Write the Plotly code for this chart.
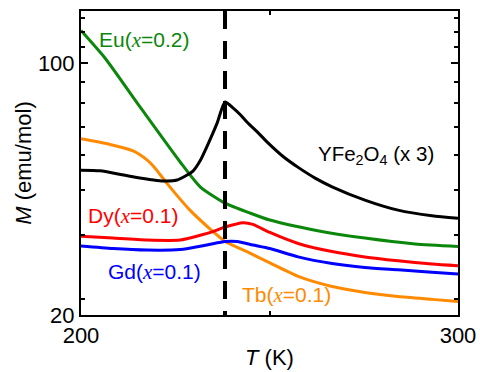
import math
import plotly.graph_objects as go

# ---- data (T in K, M in emu/mol) ----
T_eu = [200.0, 206.4, 215.6, 226.3, 231.6, 238.2, 244.8, 250.1, 262.1, 275.3, 288.6, 300.0]
M_eu = [123.3, 103.3, 75.8, 53.2, 45.4, 40.9, 38.4, 36.7, 34.4, 32.7, 31.5, 31.0]

T_y = [200.0, 205.0, 213.8, 221.8, 225.5, 229.7, 231.6, 233.4, 236.1, 238.2, 240.3, 242.2, 244.0,
       247.0, 249.6, 253.6, 257.6, 262.1, 266.6, 275.3, 284.1, 293.1, 300.0]
M_y = [50.5, 50.3, 48.4, 47.1, 47.4, 50.2, 53.6, 58.7, 68.2, 78.1, 75.2, 72.1, 68.7,
       64.1, 60.1, 55.1, 51.4, 48.0, 45.4, 41.7, 39.1, 37.7, 37.1]

T_tb = [200.0, 207.7, 213.8, 217.5, 219.6, 222.8, 228.9, 235.0, 238.2, 244.0, 250.1, 257.6, 266.6,
        275.3, 284.1, 293.1, 300.0]
M_tb = [61.7, 59.5, 57.1, 53.9, 51.2, 46.4, 39.1, 34.1, 32.0, 30.0, 27.9, 25.6, 24.0,
        23.1, 22.5, 22.1, 21.8]

T_dy = [200.0, 208.5, 217.5, 226.3, 231.6, 235.0, 238.2, 243.0, 245.6, 250.1, 257.6, 266.6,
        275.3, 284.1, 293.1, 300.0]
M_dy = [33.1, 32.7, 32.3, 32.3, 33.3, 34.1, 35.1, 36.1, 35.7, 33.9, 31.6, 30.0,
        29.0, 28.3, 27.7, 27.4]

T_gd = [200.0, 208.5, 217.5, 226.3, 233.4, 238.2, 241.4, 245.6, 250.1, 257.6, 266.6,
        275.3, 284.1, 293.1, 300.0]
M_gd = [31.1, 30.6, 30.3, 30.4, 31.3, 32.0, 32.0, 31.3, 30.6, 29.0, 27.8,
        27.1, 26.7, 26.3, 26.0]

T_transition = 238.2

y_major_ticks = [20, 100]
y_minor_ticks = [100 * n / 9 for n in (2, 3, 4, 5, 6, 7, 8, 10, 11, 12)]
x_major_ticks = [200, 300]
x_minor_ticks = [250]

FONT = "Arial, Liberation Sans, sans-serif"
SERIF = "Liberation Serif, Times New Roman, serif"

series = [
    (T_eu, M_eu, "#0b870b", "Eu(x=0.2)"),
    (T_tb, M_tb, "#ff8a00", "Tb(x=0.1)"),
    (T_gd, M_gd, "#0000ff", "Gd(x=0.1)"),
    (T_dy, M_dy, "#ff0000", "Dy(x=0.1)"),
    (T_y, M_y, "#000000", "YFe2O4 (x 3)"),
]

fig = go.Figure()
for xs, ys, col, name in series:
    fig.add_trace(go.Scatter(x=xs, y=ys, mode="lines", name=name,
                             line=dict(color=col, width=3, shape="spline", smoothing=0.6)))

fig.add_shape(type="line", xref="x", yref="paper", x0=T_transition, x1=T_transition,
              y0=1, y1=0, line=dict(color="black", width=4, dash="18px,12px"), layer="above")

def xi(s):
    return f"<span style='font-family:{SERIF}'><i>{s}</i></span>"

labels = [
    ("Eu(" + xi("x") + "=0.2)", 204.5, 116, "#0b870b", 21),
    ("YFe<sub>2</sub>O<sub>4</sub> (x 3)", 262.5, 55.7, "#000000", 20.5),
    ("Dy(" + xi("x") + "=0.1)", 201.7, 37.7, "#ff0000", 21),
    ("Gd(" + xi("x") + "=0.1)", 206.8, 26.3, "#0000ff", 21),
    ("Tb(" + xi("x") + "=0.1)", 242.4, 22.7, "#ff8a00", 21),
]
for txt, x, y, col, fs in labels:
    fig.add_annotation(x=x, y=math.log10(y), text=txt, showarrow=False,
                       xanchor="left", yanchor="middle", borderpad=0,
                       font=dict(family=FONT, size=fs, color=col))

fig.update_layout(
    width=480, height=372,
    margin=dict(l=81, r=22, t=11, b=57),
    paper_bgcolor="white", plot_bgcolor="white",
    showlegend=False,
    font=dict(family=FONT, size=22, color="black"),
)
fig.update_xaxes(
    range=[200, 300], tickvals=x_major_ticks, ticktext=[str(v) for v in x_major_ticks],
    automargin=False, ticklabeloverflow="allow",
    ticks="inside", ticklen=7, tickwidth=2, tickcolor="black",
    showline=True, linecolor="black", linewidth=2, mirror="ticks",
    showgrid=False, zeroline=False,
    tickfont=dict(size=22),
    minor=dict(tickmode="array", tickvals=x_minor_ticks, ticks="inside", ticklen=4,
               tickwidth=2, tickcolor="black", showgrid=False),
    title=dict(text="<i>T</i> (K)", font=dict(size=22), standoff=2),
)
fig.update_yaxes(
    type="log", range=[math.log10(20), math.log10(139.7)],
    tickvals=y_major_ticks, ticktext=[str(v) for v in y_major_ticks],
    automargin=False,
    ticks="inside", ticklen=7, tickwidth=2, tickcolor="black",
    showline=True, linecolor="black", linewidth=2, mirror="ticks",
    showgrid=False, zeroline=False,
    tickfont=dict(size=22),
    minor=dict(tickmode="array", tickvals=y_minor_ticks, ticks="inside", ticklen=4,
               tickwidth=2, tickcolor="black", showgrid=False),
    title=dict(text="<i>M</i> (emu/mol)", font=dict(size=22), standoff=0),
)

# remove the default 8px page margin so the 480x372 figure fills the window
fig.write_html("out.html", config={"displayModeBar": False},
               post_script="document.body.style.margin='0';document.body.style.overflow='hidden';")
